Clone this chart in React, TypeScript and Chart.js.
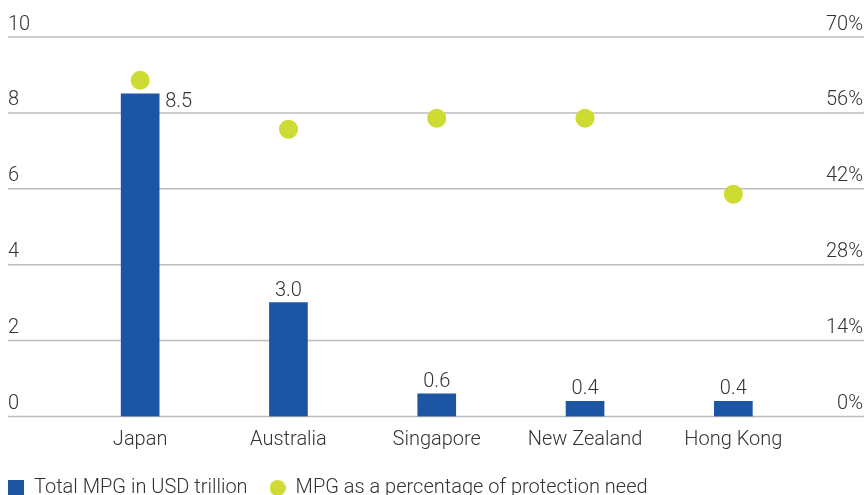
import React, { useEffect, useRef } from "react";
import { Chart, registerables } from "chart.js";

Chart.register(...registerables);

const categories = ["Japan", "Australia", "Singapore", "New Zealand", "Hong Kong"];
const totalMpg = [8.5, 3.0, 0.6, 0.4, 0.4];
const mpgPct = [62, 53, 55, 55, 41];
const leftTicks = [0, 2, 4, 6, 8, 10];
const rightTicks = [0, 14, 28, 42, 56, 70];
const seriesNames = ["Total MPG in USD trillion", "MPG as a percentage of protection need"];

const BLUE = "#1b55a3";
const GREEN = "#cddb32";
const TEXT = "#333333";
const GRID = "#bdbdbd";
const FONT = "Roboto, 'Liberation Sans', sans-serif";
const FS = 20;

function makeSwatch(kind: "rect" | "circle") {
  const c = document.createElement("canvas");
  c.width = 16;
  c.height = 16;
  const g = c.getContext("2d")!;
  if (kind === "rect") {
    g.fillStyle = BLUE;
    g.fillRect(0, 0, 16, 16);
  } else {
    g.fillStyle = GREEN;
    g.beginPath();
    g.arc(8, 8, 8, 0, Math.PI * 2);
    g.fill();
  }
  return c;
}

const gridAndTicks = {
  id: "gridAndTicks",
  beforeDatasetsDraw(chart: any) {
    const { ctx, width } = chart;
    const yl = chart.scales.y;
    const yr = chart.scales.y1;
    ctx.save();
    ctx.strokeStyle = GRID;
    ctx.lineWidth = 1.5;
    ctx.font = `300 ${FS}px ${FONT}`;
    ctx.fillStyle = TEXT;
    ctx.textBaseline = "alphabetic";
    leftTicks.forEach((v, i) => {
      const py = yl.getPixelForValue(v);
      ctx.beginPath();
      ctx.moveTo(22, py);
      ctx.lineTo(width, py);
      ctx.stroke();
      ctx.textAlign = "left";
      ctx.fillText(String(v), 22, py - 7.5);
      const rv = rightTicks[i];
      const ry = yr.getPixelForValue(rv);
      ctx.textAlign = "right";
      ctx.fillText(rv + "%", width - 1, ry - 7.5);
    });
    ctx.restore();
  },
};

const valueLabels = {
  id: "valueLabels",
  afterDatasetsDraw(chart: any) {
    const { ctx } = chart;
    const meta = chart.getDatasetMeta(1);
    ctx.save();
    ctx.font = `300 ${FS}px ${FONT}`;
    ctx.fillStyle = TEXT;
    ctx.textBaseline = "alphabetic";
    meta.data.forEach((bar: any, i: number) => {
      const txt = totalMpg[i].toFixed(1);
      if (i === 0) {
        ctx.textAlign = "left";
        ctx.fillText(txt, bar.x + bar.width / 2 + 6, bar.y + 13.5);
      } else {
        ctx.textAlign = "center";
        ctx.fillText(txt, bar.x, bar.y - 7);
      }
    });
    ctx.restore();
  },
};

export default function App() {
  const ref = useRef<HTMLCanvasElement>(null);
  useEffect(() => {
    if (!ref.current) return;
    const swatches = [makeSwatch("rect"), makeSwatch("circle")];
    const chart = new Chart(ref.current, {
      type: "bar",
      data: {
        labels: categories,
        datasets: [
          {
            type: "line",
            label: seriesNames[1],
            data: mpgPct,
            yAxisID: "y1",
            showLine: false,
            pointRadius: 9.5,
            pointHoverRadius: 9.5,
            pointBackgroundColor: GREEN,
            pointBorderWidth: 0,
            backgroundColor: GREEN,
            borderColor: GREEN,
            order: 0,
          } as any,
          {
            type: "bar",
            label: seriesNames[0],
            data: totalMpg,
            yAxisID: "y",
            backgroundColor: BLUE,
            barThickness: 38,
            order: 1,
          } as any,
        ],
      },
      options: {
        animation: false,
        responsive: false,
        maintainAspectRatio: false,
        layout: { padding: { top: 37, bottom: 0, left: 0, right: 0 } },
        plugins: {
          tooltip: { enabled: false },
          legend: {
            position: "bottom",
            align: "start",
            reverse: true,
            labels: {
              usePointStyle: true,
              boxWidth: 16,
              boxHeight: 16,
              padding: 22,
              color: TEXT,
              font: { family: FONT, size: FS, weight: "300" as any },
              generateLabels(ch: any) {
                const items = Chart.defaults.plugins.legend.labels.generateLabels(ch);
                items.forEach((it: any) => {
                  it.pointStyle = it.datasetIndex === 1 ? swatches[0] : swatches[1];
                });
                return items;
              },
            },
          },
        },
        scales: {
          x: {
            grid: { display: false, drawTicks: false },
            border: { display: false },
            ticks: {
              color: TEXT,
              font: { family: FONT, size: FS, weight: "300" as any },
              padding: 11,
              maxRotation: 0,
            },
            afterFit(s: any) {
              s.height = 39.5;
            },
          },
          y: {
            position: "left",
            min: 0,
            max: 10,
            grid: { display: false, drawTicks: false },
            border: { display: false },
            ticks: { display: false, stepSize: 2 },
            afterFit(s: any) {
              s.width = 80;
            },
          },
          y1: {
            position: "right",
            min: 0,
            max: 70,
            grid: { display: false, drawTicks: false },
            border: { display: false },
            ticks: { display: false, stepSize: 14 },
            afterFit(s: any) {
              s.width = 56.5;
            },
          },
        },
      },
      plugins: [gridAndTicks, valueLabels],
    });
    return () => chart.destroy();
  }, []);
  return (
    <div style={{ position: "fixed", left: -14, top: 0, width: 878, height: 508, overflow: "hidden" }}>
      <canvas ref={ref} width={878} height={508} style={{ display: "block" }} />
    </div>
  );
}
